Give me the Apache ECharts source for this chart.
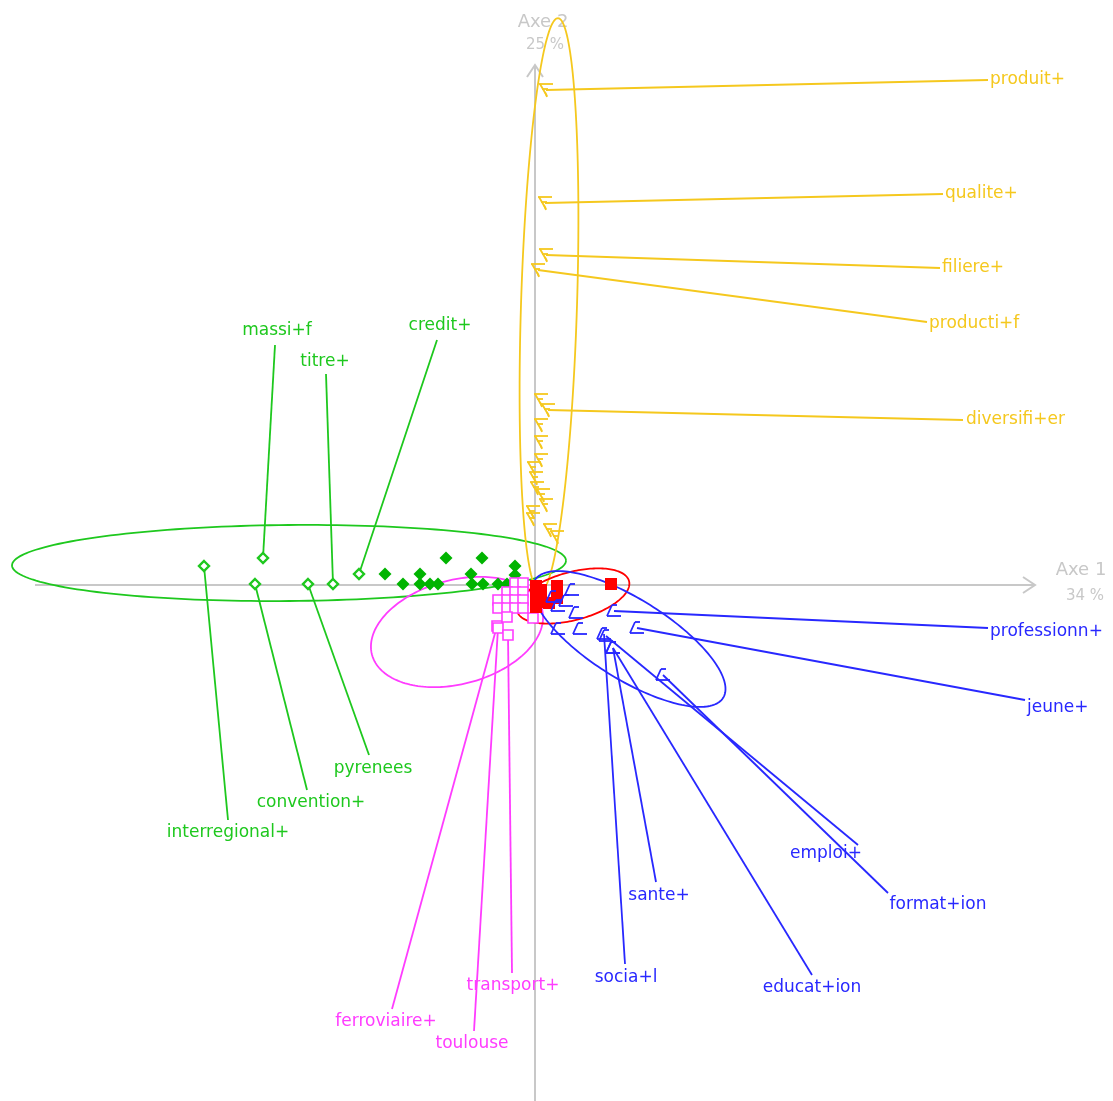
<!DOCTYPE html>
<html>
<head>
<meta charset="utf-8">
<script src="https://cdn.jsdelivr.net/npm/echarts/dist/echarts.min.js"></script>
<style>
  html, body { margin: 0; padding: 0; background: #ffffff; }
  #chart { width: 1113px; height: 1101px; }
</style>
</head>
<body>
<div id="chart"></div>
<script>
// Factorial map, axes 1 and 2. Coordinates are factor scores (plane units).

// ---- axes ----
const axisNames = ['Axe 1', 'Axe 2'];
const axisInertia = ['34 %', '25 %'];
const axis1 = [-5.00, 0, 5.00, 0];     // x0, y0, x1, y1
const axis2 = [0, -5.16, 0, 5.20];

// ---- group "yellow": product / quality words ----
const yellowPoints = [
  [0.06, 1.85], [0.06, 1.60], [0.06, 1.43], [0.06, 1.25], [-0.01, 1.17],
  [0.01, 1.07], [0.02, 0.97], [0.08, 0.90], [0.11, 0.80], [-0.02, 0.73],
  [-0.02, 0.66], [0.15, 0.55], [0.22, 0.48]
];
const yellowNames = ['produit+', 'qualite+', 'filiere+', 'producti+f', 'diversifi+er'];
// point x, point y, leader end x, leader end y, text x, text y
const yellowLabels = [
  [0.11, 4.95, 4.53, 5.05, 4.55, 5.05],
  [0.10, 3.82, 4.08, 3.91, 4.10, 3.91],
  [0.11, 3.30, 4.05, 3.17, 4.07, 3.17],
  [0.03, 3.15, 3.92, 2.63, 3.94, 2.61],
  [0.13, 1.75, 4.28, 1.65, 4.31, 1.65]
];
const yellowEllipse = [0.14, 2.80, 2.87, 0.28, 88.2]; // cx, cy, semi-major, semi-minor, angle

// ---- group "green": regional words ----
const greenPoints = [
  [-1.50, 0.11], [-1.32, 0.01], [-1.15, 0.11], [-1.15, 0.01], [-1.05, 0.01],
  [-0.97, 0.01], [-0.89, 0.27], [-0.64, 0.11], [-0.63, 0.01], [-0.53, 0.27],
  [-0.52, 0.01], [-0.37, 0.01], [-0.28, 0.01], [-0.20, 0.19], [-0.20, 0.10]
];
const greenNames = ['massi+f', 'titre+', 'credit+', 'interregional+', 'convention+', 'pyrenees'];
const greenLabels = [
  [-2.72, 0.27, -2.60, 2.40, -2.58, 2.54],
  [-2.02, 0.01, -2.09, 2.11, -2.10, 2.23],
  [-1.76, 0.11, -0.98, 2.45, -0.95, 2.59],
  [-3.31, 0.19, -3.07, -2.35, -3.07, -2.48],
  [-2.80, 0.01, -2.28, -2.05, -2.24, -2.18],
  [-2.27, 0.01, -1.66, -1.70, -1.62, -1.84]
];
const greenEllipse = [-2.46, 0.22, 2.77, 0.38, 0.5];

// ---- group "pink": transport words ----
const pinkPoints = [
  [-0.20, 0.02], [-0.12, 0.02], [-0.28, -0.07], [-0.20, -0.07], [-0.12, -0.07],
  [-0.37, -0.15], [-0.28, -0.15], [-0.20, -0.15], [-0.12, -0.15],
  [-0.37, -0.23], [-0.28, -0.23], [-0.20, -0.23], [-0.12, -0.23],
  [-0.28, -0.32], [-0.02, -0.33]
];
const pinkNames = ['ferroviaire+', 'toulouse', 'transport+'];
const pinkLabels = [
  [-0.38, -0.41, -1.43, -4.24, -1.49, -4.37],
  [-0.37, -0.43, -0.61, -4.46, -0.63, -4.59],
  [-0.27, -0.50, -0.23, -3.88, -0.22, -4.01]
];
const pinkEllipse = [-0.78, -0.47, 0.88, 0.52, 15];

// ---- group "red" ----
const redPoints = [
  [0.01, -0.01], [0.06, -0.05], [0.01, -0.13], [0.06, -0.17], [0.01, -0.22],
  [0.22, -0.01], [0.22, -0.13], [0.14, -0.18], [0.76, 0.01]
];
const redEllipse = [0.38, -0.11, 0.58, 0.24, 15];

// ---- group "blue": social / employment words ----
const bluePoints = [
  [0.37, -0.05], [0.31, -0.16], [0.23, -0.21], [0.41, -0.28],
  [0.23, -0.44], [0.45, -0.44], [0.18, -0.12]
];
const blueNames = ['professionn+', 'jeune+', 'emploi+', 'format+ion', 'sante+', 'socia+l', 'educat+ion'];
const blueLabels = [
  [0.79, -0.26, 4.53, -0.43, 4.55, -0.47],
  [1.02, -0.43, 4.90, -1.15, 4.92, -1.23],
  [0.71, -0.51, 3.23, -2.60, 2.91, -2.69],
  [1.28, -0.90, 3.53, -3.08, 4.03, -3.20],
  [0.78, -0.63, 1.21, -2.97, 1.24, -3.11],
  [0.69, -0.49, 0.90, -3.79, 0.91, -3.93],
  [0.78, -0.63, 2.77, -3.90, 2.77, -4.03]
];
const blueEllipse = [0.94, -0.54, 1.11, 0.40, -32];

// ---- styles ----
const COLORS = {
  axis: '#c8c8c8',
  yellow: '#f5c81e',
  green: '#1ec81e',
  greenMark: '#00b400',
  pink: '#ff3cff',
  red: '#ff0000',
  blue: '#2828ff'
};
const FONT = '17px "DejaVu Sans"';
const LW = 1.8;

// ---- glyph painters (pixel offsets around a point) ----
function seg(p, a, b, c, d, color, w) {
  return { type: 'line', shape: { x1: p[0] + a, y1: p[1] + b, x2: p[0] + c, y2: p[1] + d },
           style: { stroke: color, lineWidth: w || LW } };
}
const glyphs = {
  yellow: (p, c) => ({ type: 'group', children: [
    seg(p, -7, -6, 7, -6, c), seg(p, -6, -6, 1, 6, c), seg(p, -4, -1, 2, -1, c), seg(p, -1, 2, 1, 7, c)
  ]}),
  blue: (p, c) => ({ type: 'group', children: [
    seg(p, -2, -6, 3, -6, c), seg(p, -2, -6, -7, 5, c), seg(p, -7, 5, 7, 5, c)
  ]}),
  diamond: (p, c) => ({ type: 'polygon',
    shape: { points: [[p[0], p[1] - 6.5], [p[0] + 6.5, p[1]], [p[0], p[1] + 6.5], [p[0] - 6.5, p[1]]] },
    style: { fill: c } }),
  hookDiamond: (p, c) => ({ type: 'polygon',
    shape: { points: [[p[0], p[1] - 5], [p[0] + 5, p[1]], [p[0], p[1] + 5], [p[0] - 5, p[1]]] },
    style: { fill: '#ffffff', stroke: c, lineWidth: 2.4 } }),
  hollowSquare: (p, c) => ({ type: 'rect',
    shape: { x: p[0] - 5, y: p[1] - 5, width: 10, height: 10 },
    style: { fill: '#ffffff', stroke: c, lineWidth: 1.6 } }),
  filledSquare: (p, c) => ({ type: 'rect',
    shape: { x: p[0] - 6, y: p[1] - 6, width: 12, height: 12 },
    style: { fill: c } })
};

function markerSeries(data, glyph, color, z) {
  return {
    type: 'custom', coordinateSystem: 'cartesian2d', z: z, silent: true,
    encode: { x: 0, y: 1 },
    data: data,
    renderItem: (params, api) => glyphs[glyph](api.coord([api.value(0), api.value(1)]), color)
  };
}

function ellipseSeries(e, color) {
  return {
    type: 'custom', coordinateSystem: 'cartesian2d', z: 2, silent: true,
    encode: { x: 0, y: 1 },
    data: [e],
    renderItem: (params, api) => {
      const cx = api.value(0), cy = api.value(1), a = api.value(2), b = api.value(3);
      const ang = api.value(4) * Math.PI / 180;
      const pts = [];
      for (let k = 0; k <= 180; k++) {
        const t = k / 180 * 2 * Math.PI;
        const u = a * Math.cos(t), v = b * Math.sin(t);
        pts.push(api.coord([cx + u * Math.cos(ang) - v * Math.sin(ang),
                            cy + u * Math.sin(ang) + v * Math.cos(ang)]));
      }
      return { type: 'polyline', shape: { points: pts }, style: { stroke: color, fill: null, lineWidth: LW } };
    }
  };
}

function labelSeries(rows, names, color, glyph, z) {
  return {
    type: 'custom', coordinateSystem: 'cartesian2d', z: z, silent: true,
    encode: { x: 0, y: 1 },
    data: rows,
    renderItem: (params, api) => {
      const m = api.coord([api.value(0), api.value(1)]);
      const e = api.coord([api.value(2), api.value(3)]);
      const t = api.coord([api.value(4), api.value(5)]);
      const sideways = Math.abs(api.value(5) - api.value(3)) < 0.1 && api.value(4) >= api.value(2);
      return { type: 'group', children: [
        { type: 'line', shape: { x1: m[0], y1: m[1], x2: e[0], y2: e[1] },
          style: { stroke: color, lineWidth: LW } },
        glyphs[glyph](m, color),
        { type: 'text', x: t[0], y: t[1],
          style: { text: names[params.dataIndex], fill: color, font: FONT,
                   align: sideways ? 'left' : 'center', verticalAlign: 'middle' } }
      ]};
    }
  };
}

function axisSeries(ax, idx) {
  return {
    type: 'custom', coordinateSystem: 'cartesian2d', z: 1, silent: true,
    encode: { x: [0, 2], y: [1, 3] },
    data: [ax],
    renderItem: (params, api) => {
      const s = api.coord([api.value(0), api.value(1)]);
      const e = api.coord([api.value(2), api.value(3)]);
      const dx = e[0] - s[0], dy = e[1] - s[1], L = Math.hypot(dx, dy);
      const ux = dx / L, uy = dy / L, h = 12, w = 8;
      const c = COLORS.axis;
      const horiz = Math.abs(ux) > 0.5;
      const nameOff = horiz ? [46, -15] : [8, -43];
      const pctOff = horiz ? [50, 11] : [10, -20];
      return { type: 'group', children: [
        { type: 'line', shape: { x1: s[0], y1: s[1], x2: e[0], y2: e[1] }, style: { stroke: c, lineWidth: 2 } },
        { type: 'polyline', shape: { points: [
            [e[0] - ux * h - uy * w, e[1] - uy * h + ux * w], e,
            [e[0] - ux * h + uy * w, e[1] - uy * h - ux * w]] },
          style: { stroke: c, fill: null, lineWidth: 2 } },
        { type: 'text', x: e[0] + nameOff[0], y: e[1] + nameOff[1],
          style: { text: axisNames[idx], fill: c, font: '18px "DejaVu Sans"', align: 'center', verticalAlign: 'middle' } },
        { type: 'text', x: e[0] + pctOff[0], y: e[1] + pctOff[1],
          style: { text: axisInertia[idx], fill: c, font: '15px "DejaVu Sans"', align: 'center', verticalAlign: 'middle' } }
      ]};
    }
  };
}

const chart = echarts.init(document.getElementById('chart'), null, { renderer: 'canvas' });
chart.setOption({
  animation: false,
  backgroundColor: '#ffffff',
  grid: { left: 0, right: 0, top: 0, bottom: 0 },
  xAxis: { type: 'value', min: -5.35, max: 5.78, show: false },
  yAxis: { type: 'value', min: -5.16, max: 5.85, show: false },
  series: [
    axisSeries(axis1, 0),
    axisSeries(axis2, 1),
    ellipseSeries(greenEllipse, COLORS.green),
    ellipseSeries(pinkEllipse, COLORS.pink),
    ellipseSeries(yellowEllipse, COLORS.yellow),
    ellipseSeries(redEllipse, COLORS.red),
    ellipseSeries(blueEllipse, COLORS.blue),
    labelSeries(greenLabels, greenNames, COLORS.green, 'hookDiamond', 3),
    labelSeries(pinkLabels, pinkNames, COLORS.pink, 'hollowSquare', 3),
    labelSeries(yellowLabels, yellowNames, COLORS.yellow, 'yellow', 3),
    labelSeries(blueLabels, blueNames, COLORS.blue, 'blue', 3),
    markerSeries(greenPoints, 'diamond', COLORS.greenMark, 4),
    markerSeries(pinkPoints, 'hollowSquare', COLORS.pink, 5),
    markerSeries(redPoints, 'filledSquare', COLORS.red, 6),
    markerSeries(bluePoints, 'blue', COLORS.blue, 7),
    markerSeries(yellowPoints, 'yellow', COLORS.yellow, 7)
  ]
});
</script>
</body>
</html>
